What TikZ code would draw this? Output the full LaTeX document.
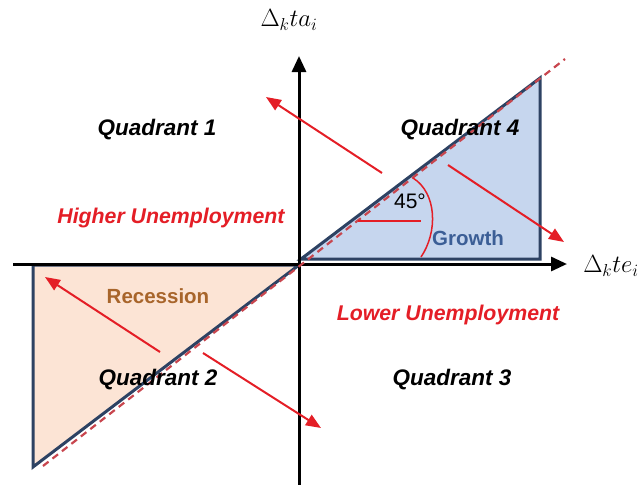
\documentclass[tikz,border=0pt]{standalone}
\usepackage{fontspec}
\setmainfont{Liberation Sans}
\usetikzlibrary{arrows.meta}
\definecolor{arrred}{HTML}{E41E26}
\definecolor{navy}{HTML}{2D4263}
\definecolor{bluefill}{HTML}{C6D6EE}
\definecolor{orangefill}{HTML}{FCE4D5}
\definecolor{recbrown}{HTML}{A8652B}
\definecolor{growblue}{HTML}{3B5E96}
\definecolor{dashred}{HTML}{C8464E}
\begin{document}
\begin{tikzpicture}[x=1pt,y=-1pt,
  tri/.style={draw=navy,line width=3pt},
  axis/.style={draw=black,line width=3pt,-{Triangle[length=16pt,width=14pt]}},
  move/.style={draw=arrred,line width=2pt,-{Triangle[length=15pt,width=12pt]}},
  quad/.style={anchor=base,font=\fontsize{22.5}{26}\selectfont\bfseries\itshape},
  unemp/.style={anchor=base,text=arrred,font=\fontsize{21.3}{25}\selectfont\bfseries\itshape},
  phase/.style={anchor=base,font=\fontsize{20.5}{24}\selectfont\bfseries},
  axlabel/.style={font=\fontsize{25}{29}\selectfont}]
\useasboundingbox (0,0) rectangle (641,485);
% triangles
\filldraw[tri,fill=orangefill] (33,265) -- (299,265) -- (33,467) -- cycle;
\filldraw[tri,fill=bluefill] (301,259) -- (540,78) -- (540,259) -- cycle;
% axes
\coordinate (xs) at (13,264);
\coordinate (xe) at (567,264);
\coordinate (ys) at (299,485);
\coordinate (ye) at (299,56);
\draw[axis] (xs) -- (xe);
\draw[axis] (ys) -- (ye);
% 45 degree dashed line
\coordinate (d1) at (43,466);
\coordinate (d2) at (565,59);
\draw[dashred,line width=2.2pt,dash pattern=on 7pt off 5pt] (d1) -- (d2);
% angle marks
\coordinate (h1) at (358,221);
\coordinate (h2) at (421,221);
\draw[arrred,line width=1.5pt] (h1) -- (h2);
\coordinate (c1) at (413,178);
\coordinate (c2) at (421,257);
\draw[arrred,line width=1.5pt] (c1) .. controls (437,193) and (438,232) .. (c2);
% movement arrows
\coordinate (a1s) at (382,173); \coordinate (a1e) at (266,97);
\coordinate (a2s) at (448,165); \coordinate (a2e) at (564,242);
\coordinate (a3s) at (160,352); \coordinate (a3e) at (45,277);
\coordinate (a4s) at (203,353); \coordinate (a4e) at (321,428);
\draw[move] (a1s) -- (a1e);
\draw[move] (a2s) -- (a2e);
\draw[move] (a3s) -- (a3e);
\draw[move] (a4s) -- (a4e);
% labels
\node[quad] (q1) at (157,135) {Quadrant 1};
\node[quad] (q4) at (460,135) {Quadrant 4};
\node[quad] (q2) at (158,385) {Quadrant 2};
\node[quad] (q3) at (452,385) {Quadrant 3};
\node[unemp] (hu) at (171,223) {Higher Unemployment};
\node[unemp] (lu) at (448,320) {Lower Unemployment};
\node[phase,text=recbrown] (rec) at (158,303) {Recession};
\node[phase,text=growblue] (gro) at (468,245) {Growth};
\node[anchor=base,font=\fontsize{21}{25}\selectfont] (ang) at (410,208) {45°};
\node[axlabel] (ylab) at (289,20) {$\Delta_k ta_i$};
\node[axlabel] (xlab) at (611,266) {$\Delta_k te_i$};
\end{tikzpicture}
\end{document}
